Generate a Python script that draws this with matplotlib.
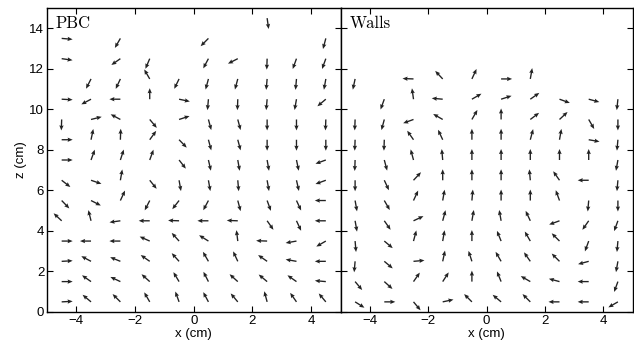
import numpy as np
import matplotlib
matplotlib.use("Agg")
import matplotlib.pyplot as plt

nan = np.nan

# Measurement grid (cm): columns across the cell, rows from top to bottom
x_cm = [-4.5, -3.5, -2.5, -1.5, -0.5, 0.5, 1.5, 2.5, 3.5, 4.5]
z_cm = [14.5, 13.5, 12.5, 11.5, 10.5, 9.5, 8.5, 7.5, 6.5, 5.5, 4.5, 3.5, 2.5, 1.5, 0.5]

# Flow direction at each grid node, degrees counter-clockwise from +x (nan = no vector)
pbc_angle_deg = [
    [nan, nan, nan, nan, nan, nan, nan, 278, nan, nan],
    [-5, nan, 240, nan, nan, 225, nan, nan, nan, 255],
    [-8, nan, 215, 247, nan, 242, 207, 268, 250, 250],
    [nan, 243, 245, 120, 244, 255, 255, 265, 265, 260],
    [-3, 208, 180, 90, -12, 265, 268, 265, 260, 220],
    [268, 14, 152, 310, 18, 285, 285, 270, 270, 268],
    [0, 78, 88, 54, 314, 285, 285, 270, 270, 270],
    [0, 70, 72, 70, 308, 283, 280, 280, 282, 200],
    [322, 341, 80, 309, 280, 280, 275, 280, 283, 200],
    [314, 333, 65, 243, 232, 242, 285, 290, 295, 180],
    [137, 104, 188, 180, 178, 180, 178, 305, 295, 180],
    [0, 180, 180, 156, 132, 148, 97, 178, 190, 210],
    [3, 152, 158, 145, 132, 120, 115, 145, 170, 180],
    [0, 145, 155, 138, 121, 117, 138, 140, 145, 175],
    [3, 140, 135, 120, 110, 118, 130, 105, 125, 130],
]

walls_angle_deg = [
    [nan, nan, nan, nan, nan, nan, nan, nan, nan, nan],
    [nan, nan, nan, nan, nan, nan, nan, nan, nan, nan],
    [nan, nan, nan, nan, nan, nan, nan, nan, nan, nan],
    [258, nan, 178, 133, 65, 0, 80, nan, nan, nan],
    [nan, 250, 98, 175, 30, 18, 35, 340, 345, 264],
    [268, 255, 200, 150, 60, 90, 37, 43, 300, 270],
    [268, 268, 125, 115, 90, 90, 75, 80, 350, 265],
    [268, 285, 105, 95, 90, 90, 90, 90, 90, 260],
    [270, 295, 47, 90, 90, 90, 95, 125, 180, 265],
    [280, 300, 65, 80, 85, 90, 90, 110, 265, 270],
    [280, 305, 25, 75, 80, 100, 115, 200, 235, 250],
    [275, 320, 75, 80, 90, 112, 120, 135, 250, 265],
    [265, 320, 5, 78, 108, 120, 125, 135, 195, 260],
    [310, 318, 55, 57, 90, 112, 150, 165, 180, 250],
    [328, 0, 310, 12, 135, 140, 135, 180, 180, 210],
]

panel_titles = ["PBC", "Walls"]
x_ticks = [-4, -2, 0, 2, 4]
z_ticks = [0, 2, 4, 6, 8, 10, 12, 14]

plt.rcParams["font.family"] = ["Liberation Sans", "DejaVu Sans"]

W, H = 634, 346
fig = plt.figure(figsize=(W / 100, H / 100), dpi=100)
ax_left = fig.add_axes([47 / W, 34 / H, 293.5 / W, 304 / H])
ax_right = fig.add_axes([340.5 / W, 34 / H, 292 / W, 304 / H], sharey=ax_left)

X, Z = np.meshgrid(x_cm, z_cm)

for ax, angles, title in zip((ax_left, ax_right),
                             (pbc_angle_deg, walls_angle_deg), panel_titles):
    theta = np.deg2rad(np.array(angles, dtype=float))
    U = np.ma.masked_invalid(np.cos(theta))
    V = np.ma.masked_invalid(np.sin(theta))
    ax.quiver(X, Z, U, V, pivot="tail", units="inches",
              scale_units="inches", scale=1 / 0.11, width=0.0135,
              headwidth=3.2, headlength=3.8, headaxislength=3.4,
              color="#222222")
    ax.set_xlim(-5, 5)
    ax.set_ylim(0, 15)
    ax.set_xticks(x_ticks)
    ax.set_yticks(z_ticks)
    ax.tick_params(direction="in", top=True, right=True, length=4,
                   width=0.8, labelsize=9.5, pad=2)
    for sp in ax.spines.values():
        sp.set_linewidth(1.0)
    ax.set_xlabel("x (cm)", fontsize=9.5, labelpad=1)
    ax.text(0.03, 0.975, title, transform=ax.transAxes, ha="left", va="top",
            fontsize=12, family="cmr10")

ax_left.set_ylabel("z (cm)", fontsize=9.5, labelpad=2)
ax_right.tick_params(labelleft=False)

fig.savefig("out.png", dpi=100)
